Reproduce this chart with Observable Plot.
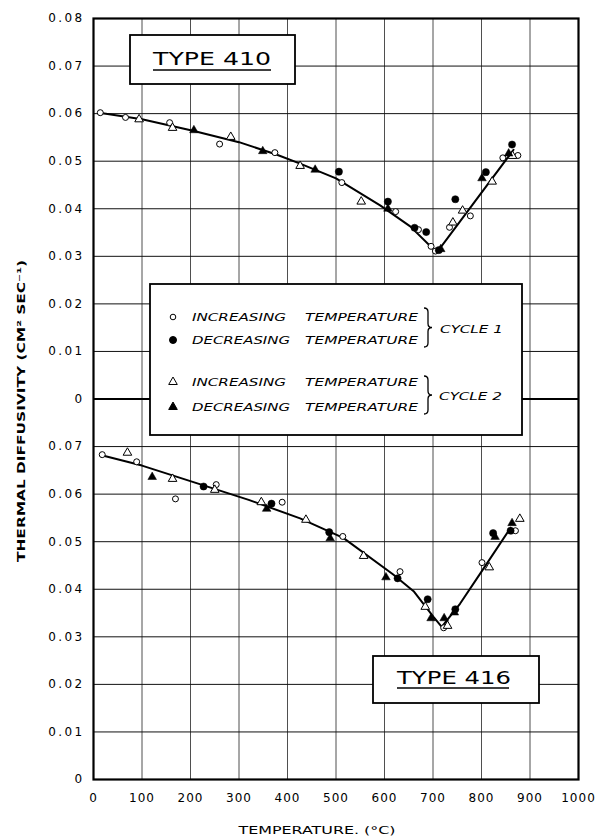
<!DOCTYPE html>
<html>
<head>
<meta charset="utf-8">
<script src="https://cdn.jsdelivr.net/npm/d3@7"></script>
<script src="https://cdn.jsdelivr.net/npm/@observablehq/plot@0.6"></script>
<style>
  body { margin: 0; background: #fff; }
  #chart svg { display: block; }
</style>
</head>
<body>
<div id="chart"></div>
<script>
// ---------- tick values ----------
const xTicks = [0, 100, 200, 300, 400, 500, 600, 700, 800, 900, 1000];
// one shared vertical scale: lower panel (TYPE 416) 0..0.08, upper panel (TYPE 410) stacked on top (+0.08)
const yTicks = [0, 0.01, 0.02, 0.03, 0.04, 0.05, 0.06, 0.07, 0.08, 0.09, 0.10, 0.11, 0.12, 0.13, 0.14, 0.15, 0.16];
const panelOffset = 0.08;

// ---------- TYPE 410 (upper panel) : [temperature °C, diffusivity cm²/s] ----------
const t410Cycle1Inc = [[14,0.0602],[66,0.0592],[157,0.0581],[260,0.0536],[374,0.0518],[512,0.0455],[623,0.0394],[670,0.0356],[696,0.0321],[705,0.0311],[734,0.0361],[777,0.0385],[844,0.0507],[875,0.0512]];
const t410Cycle1Dec = [[506,0.0478],[607,0.0415],[662,0.0360],[686,0.0351],[712,0.0313],[746,0.0420],[809,0.0477],[863,0.0535]];
const t410Cycle2Inc = [[94,0.0588],[163,0.0570],[283,0.0551],[426,0.0490],[552,0.0415],[741,0.0371],[761,0.0396],[822,0.0457],[864,0.0511]];
const t410Cycle2Dec = [[207,0.0565],[349,0.0521],[457,0.0482],[607,0.0400],[716,0.0315],[801,0.0464],[856,0.0516]];
const t410Curve = [[12,0.0602],[100,0.0588],[205,0.0564],[300,0.0540],[377,0.0514],[426,0.0495],[500,0.0464],[591,0.0407],[653,0.0363],[700,0.0316],[710,0.0311],[866,0.0524]];

// ---------- TYPE 416 (lower panel) ----------
const t416Cycle1Inc = [[18,0.0683],[89,0.0668],[169,0.0590],[253,0.0620],[389,0.0583],[514,0.0511],[632,0.0437],[722,0.0319],[801,0.0456],[870,0.0523]];
const t416Cycle1Dec = [[227,0.0616],[367,0.0580],[486,0.0520],[627,0.0423],[689,0.0379],[746,0.0358],[824,0.0518],[860,0.0523]];
const t416Cycle2Inc = [[70,0.0687],[163,0.0632],[250,0.0609],[346,0.0583],[438,0.0546],[557,0.0470],[684,0.0363],[730,0.0323],[816,0.0446],[879,0.0548]];
const t416Cycle2Dec = [[121,0.0636],[357,0.0569],[488,0.0507],[603,0.0425],[696,0.0339],[723,0.0339],[744,0.0351],[828,0.0510],[863,0.0539]];
const t416Curve = [[23,0.0680],[100,0.0660],[219,0.0621],[320,0.0588],[426,0.0549],[515,0.0508],[618,0.0431],[660,0.0396],[701,0.0342],[718,0.0321],[756,0.0370],[800,0.0437],[860,0.0529]];

// ---------- build tables ----------
const rows = (arr, off) => arr.map(([t, v]) => ({t, y: v + off}));
const openCircles   = [...rows(t410Cycle1Inc, panelOffset), ...rows(t416Cycle1Inc, 0)];
const filledCircles = [...rows(t410Cycle1Dec, panelOffset), ...rows(t416Cycle1Dec, 0)];
const openTris      = [...rows(t410Cycle2Inc, panelOffset), ...rows(t416Cycle2Inc, 0)];
const filledTris    = [...rows(t410Cycle2Dec, panelOffset), ...rows(t416Cycle2Dec, 0)];

const yFormat = (d) => {
  let v = d > panelOffset + 1e-9 ? d - panelOffset : (Math.abs(d - panelOffset) < 1e-9 ? 0 : d);
  v = Math.round(v * 100) / 100;
  return v === 0 ? "0" : v.toFixed(2);
};

const plot = Plot.plot({
  width: 597,
  height: 840,
  marginTop: 18,
  marginBottom: 61,
  marginLeft: 93,
  marginRight: 19,
  style: {fontFamily: "DejaVu Sans", fontSize: "12px", background: "white", color: "black"},
  x: {domain: [0, 1000]},
  y: {domain: [0, 0.16]},
  marks: [
    Plot.gridX(xTicks, {stroke: "#222", strokeOpacity: 1, strokeWidth: 0.8}),
    Plot.gridY(yTicks, {stroke: "#111", strokeOpacity: 1, strokeWidth: 1}),
    Plot.ruleY([panelOffset], {stroke: "black", strokeWidth: 2.2}),
    Plot.frame({stroke: "black", strokeWidth: 2.2}),
    Plot.line(rows(t410Curve, panelOffset), {x: "t", y: "y", stroke: "black", strokeWidth: 2}),
    Plot.line(rows(t416Curve, 0), {x: "t", y: "y", stroke: "black", strokeWidth: 2}),
    Plot.dot(openCircles, {x: "t", y: "y", r: 3, fill: "white", stroke: "black", strokeWidth: 1}),
    Plot.dot(openTris, {x: "t", y: "y", r: 3.2, symbol: "triangle", fill: "white", stroke: "black", strokeWidth: 1}),
    Plot.dot(filledTris, {x: "t", y: "y", r: 3.2, symbol: "triangle", fill: "black", stroke: "black", strokeWidth: 0.5}),
    Plot.dot(filledCircles, {x: "t", y: "y", r: 3.6, fill: "black", stroke: "black", strokeWidth: 0.5}),
    Plot.axisX(xTicks, {tickSize: 0, tickPadding: 14, label: null, fontSize: 12, tickFormat: (d) => String(d)}),
    Plot.axisY(yTicks, {tickSize: 0, tickPadding: 9, tickFormat: yFormat, label: null, fontSize: 12})
  ]
});

document.getElementById("chart").appendChild(plot);

// ---------- styling of tick labels ----------
const svg = d3.select(plot);
svg.selectAll('g[aria-label="y-axis tick label"] text').attr("letter-spacing", 2.4);
svg.selectAll('g[aria-label="x-axis tick label"] text').attr("letter-spacing", 1);

// ---------- annotations (boxes, legend, axis titles) ----------
const g = svg.append("g").attr("font-family", "DejaVu Sans").attr("fill", "black");

function box(x, y, w, h) {
  g.append("rect").attr("x", x).attr("y", y).attr("width", w).attr("height", h)
    .attr("fill", "white").attr("stroke", "black").attr("stroke-width", 1.8);
}
function label(txt, x, y, opts = {}) {
  const t = g.append("text").attr("x", x).attr("y", y).text(txt)
    .attr("font-size", opts.size || 11)
    .attr("text-anchor", opts.anchor || "start");
  if (opts.italic) t.attr("font-style", "italic");
  if (opts.weight) t.attr("font-weight", opts.weight);
  if (opts.len) t.attr("textLength", opts.len).attr("lengthAdjust", "spacingAndGlyphs");
  if (opts.transform) t.attr("transform", opts.transform);
  return t;
}
function brace(x, y1, y2) {
  const m = (y1 + y2) / 2, w = 4;
  const d = `M${x},${y1} q${w},0 ${w},${w} V${m - w} q0,${w} ${w},${w} q-${w},0 -${w},${w} V${y2 - w} q0,${w} -${w},${w}`;
  g.append("path").attr("d", d).attr("fill", "none").attr("stroke", "black").attr("stroke-width", 1.3);
}

// TYPE 410 box
box(130, 35, 165, 49);
label("TYPE 410", 212, 65, {size: 18, anchor: "middle", len: 118});
g.append("line").attr("x1", 153).attr("x2", 271).attr("y1", 70).attr("y2", 70).attr("stroke", "black").attr("stroke-width", 1.5);

// TYPE 416 box
box(373, 656, 166, 47);
label("TYPE 416", 454, 683.5, {size: 18, anchor: "middle", len: 114});
g.append("line").attr("x1", 397).attr("x2", 509).attr("y1", 688).attr("y2", 688).attr("stroke", "black").attr("stroke-width", 1.5);

// Legend box
box(150, 284, 372, 151);
const legendRows = [
  {y: 317, word: "INCREASING", symbol: d3.symbolCircle, r: 2.8, fill: "white"},
  {y: 340, word: "DECREASING", symbol: d3.symbolCircle, r: 3.5, fill: "black"},
  {y: 382, word: "INCREASING", symbol: d3.symbolTriangle, r: 3.2, fill: "white"},
  {y: 407, word: "DECREASING", symbol: d3.symbolTriangle, r: 3.2, fill: "black"}
];
for (const row of legendRows) {
  g.append("path")
    .attr("d", d3.symbol(row.symbol, Math.PI * row.r * row.r)())
    .attr("transform", `translate(173,${row.y})`)
    .attr("fill", row.fill).attr("stroke", "black").attr("stroke-width", 1);
  label(row.word, 192, row.y + 4, {italic: true, len: row.word === "INCREASING" ? 94 : 98});
  label("TEMPERATURE", 305, row.y + 4, {italic: true, len: 113});
}
brace(424, 308, 347);
label("CYCLE 1", 440, 333, {italic: true, len: 63});
brace(424, 376, 414);
label("CYCLE 2", 439, 400, {italic: true, len: 63});

// Axis titles
label("THERMAL DIFFUSIVITY (CM² SEC⁻¹)", 0, 0, {size: 11, anchor: "middle", weight: "bold", len: 302, transform: "translate(25,411) rotate(-90)"});
label("TEMPERATURE. (°C)", 317, 834, {size: 11, anchor: "middle", len: 157});
</script>
</body>
</html>
